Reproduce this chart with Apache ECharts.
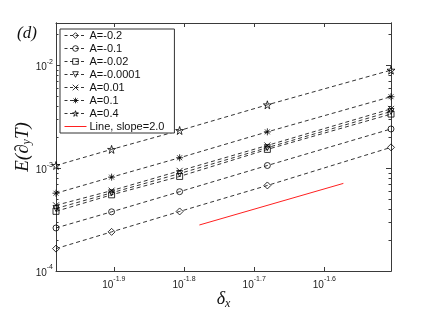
<!DOCTYPE html>
<html><head><meta charset="utf-8">
<script src="https://cdn.jsdelivr.net/npm/echarts@6/dist/echarts.min.js"></script>
<style>html,body{margin:0;padding:0;background:#fff}#c{width:432px;height:315px}</style>
</head><body><div id="c"></div>
<script>
// ---- data ----
const xVals = [1/96, 1/80, 1/64, 1/48, 1/32];
const seriesNames = ['A=-0.2', 'A=-0.1', 'A=-0.02', 'A=-0.0001', 'A=0.01', 'A=0.1', 'A=0.4'];
const yAm02    = [1.65e-4, 2.40e-4, 3.79e-4, 6.78e-4, 1.59e-3];
const yAm01    = [2.62e-4, 3.76e-4, 5.90e-4, 1.06e-3, 2.40e-3];
const yAm002   = [3.80e-4, 5.50e-4, 8.30e-4, 1.52e-3, 3.35e-3];
const yAm00001 = [4.05e-4, 5.75e-4, 8.85e-4, 1.58e-3, 3.55e-3];
const yA001    = [4.35e-4, 6.04e-4, 9.40e-4, 1.66e-3, 3.76e-3];
const yA01     = [5.70e-4, 8.17e-4, 1.26e-3, 2.25e-3, 4.94e-3];
const yA04     = [1.06e-3, 1.52e-3, 2.32e-3, 4.12e-3, 8.95e-3];
const seriesValues = [yAm02, yAm01, yAm002, yAm00001, yA001, yA01, yA04];
const refName = 'Line, slope=2.0';
const lineX = [0.01667, 0.02673];
const lineY = [2.80e-4, 7.10e-4];
const xTickExp = [-1.9, -1.8, -1.7, -1.6];
const yTickExp = [-4, -3, -2];

// ---- styles ----
const symbols = [
  'diamond',
  'circle',
  'rect',
  'path://M0,0 L100,0 L50,90 Z',
  'path://M0,0 L100,100 M100,0 L0,100',
  'path://M50,0 L50,100 M0,50 L100,50 M15,15 L85,85 M85,15 L15,85',
  'path://M50,0 L61,35 L98,35 L68,57 L79,91 L50,70 L21,91 L32,57 L2,35 L39,35 Z'
];
const symSizes = [7, 6, 6, 6, 6, 7, 8];
const xMin = xVals[0], xMax = xVals[xVals.length - 1];
const yMin = 1e-4, yMax = Math.pow(10, -1.59);
const xTicks = xTickExp.map(e => Math.pow(10, e));
const yTicks = yTickExp.map(e => Math.pow(10, e));
const yMinor = [];
for (let k = -4; k <= -2; k++) for (let m = 2; m <= 9; m++) { const v = m * Math.pow(10, k); if (v < yMax) yMinor.push(v); }

const axCol = '#3a3a3a';
const rich = {
  b: {fontSize: 10, color: '#222', fontFamily: 'Liberation Sans', lineHeight: 14, verticalAlign: 'bottom'},
  s: {fontSize: 7, color: '#222', fontFamily: 'Liberation Sans', lineHeight: 14, verticalAlign: 'top'}
};
function mkX(pos, labels) {
  return {
    type: 'log', logBase: 10, min: xMin, max: xMax, position: pos, gridIndex: 0,
    axisLine: {show: true, lineStyle: {color: axCol, width: 1}},
    axisTick: {show: true, inside: true, length: 4, lineStyle: {color: axCol}, customValues: xTicks},
    axisLabel: labels ? {show: true, margin: 5, customValues: xTicks, rich: rich,
      formatter: v => '{b|10}{s|' + (Math.round(Math.log10(v) * 10) / 10).toFixed(1) + '}'} : {show: false},
    splitLine: {show: false}, minorTick: {show: false}, minorSplitLine: {show: false},
    name: labels ? '{i|δ}{sub|x}' : '', nameLocation: 'middle', nameGap: 18, nameMoveOverlap: false,
    nameTextStyle: {rich: {
      i: {fontSize: 18, fontFamily: 'Liberation Serif', fontStyle: 'italic', color: '#111'},
      sub: {fontSize: 12, fontFamily: 'Liberation Serif', fontStyle: 'italic', color: '#111', padding: [9, 0, 0, 0]}
    }}
  };
}
function mkY(pos, vals, len, labels) {
  return {
    type: 'log', logBase: 10, min: yMin, max: yMax, position: pos, gridIndex: 0,
    axisLine: {show: true, lineStyle: {color: axCol, width: 1}},
    axisTick: {show: true, inside: true, length: len, lineStyle: {color: axCol}, customValues: vals},
    axisLabel: labels ? {show: true, margin: 3, customValues: vals, rich: rich,
      formatter: v => '{b|10}{s|' + Math.round(Math.log10(v)) + '}'} : {show: false},
    splitLine: {show: false}, minorTick: {show: false}, minorSplitLine: {show: false},
    name: labels ? '{i|E(∂}{sub|y}{i|T)}' : '', nameLocation: 'middle', nameGap: 23, nameRotate: 90,
    nameMoveOverlap: false,
    nameTextStyle: {rich: {
      i: {fontSize: 19, fontFamily: 'Liberation Serif', fontStyle: 'italic', color: '#111'},
      sub: {fontSize: 12, fontFamily: 'Liberation Serif', fontStyle: 'italic', color: '#111', padding: [9, 0, 0, 0]}
    }}
  };
}

const series = seriesNames.map((n, i) => ({
  name: n, type: 'line', xAxisIndex: 0, yAxisIndex: 0,
  data: xVals.map((x, j) => [x, seriesValues[i][j]]),
  symbol: symbols[i], symbolSize: symSizes[i], showSymbol: true,
  lineStyle: {color: '#000', width: 0.8, type: [4, 3]},
  itemStyle: {color: 'rgba(0,0,0,0)', borderColor: '#000', borderWidth: 0.8},
  emphasis: {disabled: true}, animation: false, z: 3
}));
series.push({
  name: refName, type: 'line', xAxisIndex: 0, yAxisIndex: 0,
  data: lineX.map((x, j) => [x, lineY[j]]),
  symbol: 'none', lineStyle: {color: '#ff2020', width: 1, type: 'solid'},
  itemStyle: {color: '#ff2020'}, emphasis: {disabled: true}, animation: false
});

const legendData = seriesNames.map(n => ({name: n}));
legendData.push({name: refName, lineStyle: {type: 'solid', width: 1},
  itemStyle: {color: 'rgba(0,0,0,0)', borderColor: 'rgba(0,0,0,0)', borderWidth: 0}});

const chart = echarts.init(document.getElementById('c'), null, {renderer: 'canvas'});
chart.setOption({
  animation: false,
  backgroundColor: '#fff',
  grid: {left: 56, right: 41, top: 23, bottom: 35, containLabel: false},
  xAxis: [mkX('bottom', true), mkX('top', false)],
  yAxis: [mkY('left', yTicks, 5, true), mkY('left', yMinor, 2.5, false),
          mkY('right', yTicks, 5, false), mkY('right', yMinor, 2.5, false)],
  legend: {
    orient: 'vertical', left: 60, top: 29, itemWidth: 22, itemHeight: 7, itemGap: 2,
    padding: [1, 10, 1, 4], backgroundColor: '#fff', borderColor: '#333', borderWidth: 1,
    lineStyle: {width: 0.8, type: [3, 2.5]},
    itemStyle: {borderWidth: 0.8},
    textStyle: {fontSize: 11, fontFamily: 'Liberation Sans', color: '#111', padding: [0, 0, 0, -2]},
    data: legendData, selectedMode: false
  },
  graphic: [{type: 'text', left: 17, top: 25, style: {text: '(d)', font: 'italic 17px "Liberation Serif"', fill: '#111'}}],
  series: series
});
</script></body></html>
